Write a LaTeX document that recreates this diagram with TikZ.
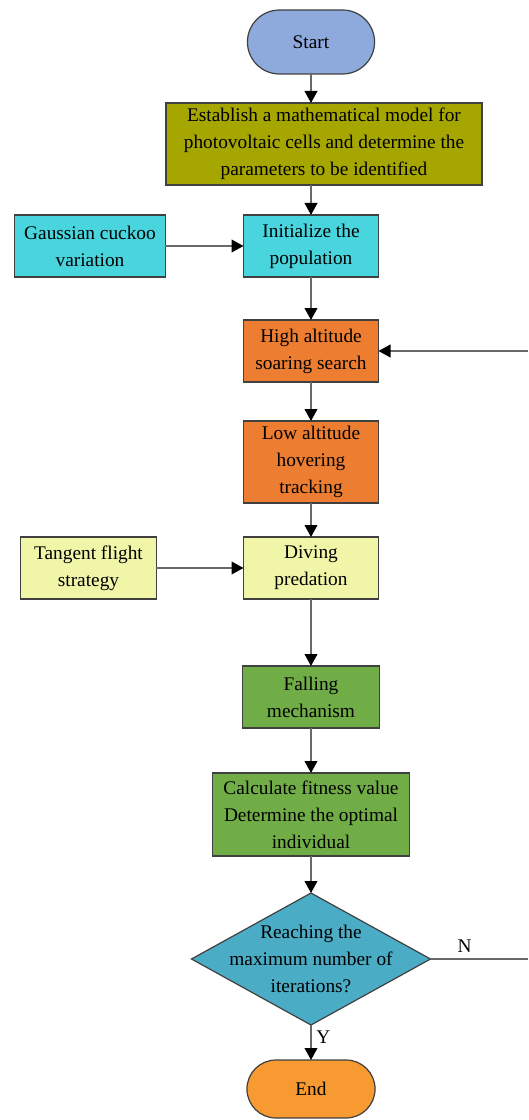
\documentclass[tikz,border=0pt]{standalone}
\usepackage{fontspec}
\setmainfont{Liberation Serif}
\usetikzlibrary{shapes.geometric, shapes.misc, arrows.meta, positioning}
\definecolor{cStart}{RGB}{142,169,219}
\definecolor{cModel}{RGB}{166,166,0}
\definecolor{cInit}{RGB}{72,213,221}
\definecolor{cSearch}{RGB}{237,125,49}
\definecolor{cDive}{RGB}{240,245,168}
\definecolor{cFall}{RGB}{112,173,71}
\definecolor{cCheck}{RGB}{75,172,198}
\definecolor{cEnd}{RGB}{247,154,50}
\definecolor{cLine}{RGB}{105,105,105}

\begin{document}
\begin{tikzpicture}[font=\fontsize{14.5}{20.25}\selectfont,
  term/.style={draw=black!75, rounded rectangle, line width=0.9pt, outer sep=0pt, minimum width=102pt, minimum height=48pt},
  box/.style={draw=black!75, line width=0.9pt, outer sep=0pt, minimum width=101.25pt, minimum height=46.5pt, align=center, inner sep=2pt},
  decision/.style={draw=black!75, diamond, line width=0.9pt, outer sep=0pt, minimum width=179.25pt, minimum height=99pt, inner sep=0pt},
  arr/.style={-{Triangle[length=9pt, width=9.5pt, color=black]}, draw=cLine, line width=1.4pt},
  link/.style={draw=cLine, line width=1.4pt}]
  \useasboundingbox (-233.25pt,-808.5pt) rectangle (162.75pt,31.5pt);
  \node[term, fill=cStart] (start) at (0,0) {Start};
  \node[box, fill=cModel, minimum width=237pt, minimum height=61.5pt, below=21.75pt of start, xshift=9.75pt] (model) {Establish a mathematical model for\\photovoltaic cells and determine the\\parameters to be identified};
  \node[box, fill=cInit, below=22.5pt of model, xshift=-9.75pt] (init) {Initialize the\\population};
  \node[box, fill=cInit, minimum width=113.25pt, left=58.5pt of init] (gauss) {Gaussian cuckoo\\variation};
  \node[box, fill=cSearch, below=32.25pt of init] (high) {High altitude\\soaring search};
  \node[box, fill=cSearch, minimum height=61.5pt, below=29.25pt of high] (low) {Low altitude\\hovering\\tracking};
  \node[box, fill=cDive, below=25.5pt of low] (dive) {Diving\\predation};
  \node[box, fill=cDive, minimum width=102pt, left=65.25pt of dive] (tangent) {Tangent flight\\strategy};
  \node[box, fill=cFall, minimum width=102.75pt, below=50.25pt of dive] (fall) {Falling\\mechanism};
  \node[box, fill=cFall, minimum width=147.75pt, minimum height=62.25pt, below=33.75pt of fall] (calc) {Calculate fitness value\\Determine the optimal\\individual};
  \node[decision, fill=cCheck, below=27.75pt of calc,
    label={[align=center]center:{Reaching the\\maximum number of\\iterations?}}] (check) {};
  \node[term, fill=cEnd, minimum width=102.75pt, minimum height=43.5pt, below=26.25pt of check] (stop) {End};
  \coordinate (edge) at (162.75pt,0);

  \draw[arr] (start) -- (start |- model.north);
  \draw[arr] (start |- model.south) -- (init);
  \draw[arr] (gauss) -- (init);
  \draw[arr] (init) -- (high);
  \draw[arr] (high) -- (low);
  \draw[arr] (low) -- (dive);
  \draw[arr] (tangent) -- (dive);
  \draw[arr] (dive) -- (fall);
  \draw[arr] (fall) -- (calc);
  \draw[arr] (calc) -- (check);
  \draw[arr] (check) -- node[right, pos=0.35]{Y} (stop);
  \draw[link] (check.east) -- node[above, pos=0.35, inner sep=4pt]{N} (check.east -| edge);
  \draw[arr] (high.east -| edge) -- (high.east);
\end{tikzpicture}
\end{document}
